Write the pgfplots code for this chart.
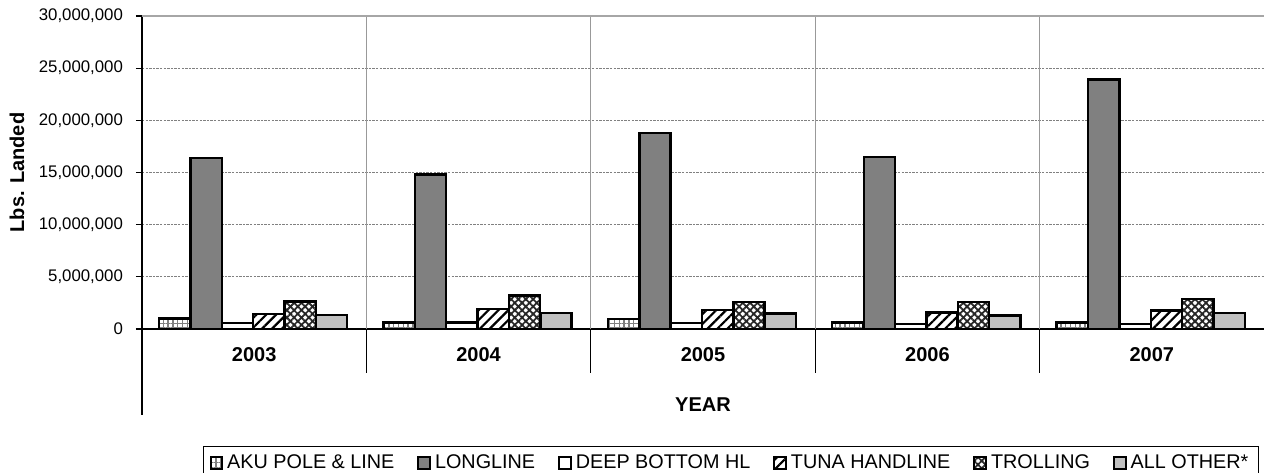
\documentclass[border=0pt]{standalone}
\usepackage{fontspec}
\setmainfont{Liberation Sans}
\usepackage{pgfplots}
\pgfplotsset{compat=1.18}
\usetikzlibrary{patterns.meta}

\pgfplotsset{sq legend/.style={legend image code/.code={\draw[##1, line width=1pt] (0pt,-2.9pt) rectangle (5.8pt,2.9pt);}}}

\begin{document}
\begin{tikzpicture}
\begin{axis}[
  at={(0,0)}, anchor=south west,
  scale only axis, width=561pt, height=156.5pt,
  xmin=-0.5, xmax=4.5, ymin=0, ymax=30000000,
  clip=false,
  ybar,
  axis x line*=bottom, axis y line*=left,
  axis line style={black, line width=0.8pt},
  xtick={0,1,2,3,4},
  xticklabels={2003,2004,2005,2006,2007},
  x tick label style={font=\bfseries\fontsize{10}{12}\selectfont, anchor=center, yshift=-10pt},
  major x tick style={draw=none},
  ytick={0,5000000,10000000,15000000,20000000,25000000,30000000},
  scaled y ticks=false,
  y tick label style={font=\fontsize{8.4}{10}\selectfont, xshift=-3pt, /pgf/number format/.cd, fixed, 1000 sep={,}, assume math mode=true},
  tick align=outside, major tick length=3pt,
  major y tick style={black, line width=0.6pt},
  ymajorgrids, grid style={gray, dash pattern=on 1.2pt off 0.6pt, line width=0.4pt},
  ylabel={Lbs. Landed},
  ylabel style={at={(axis description cs:-0.1114,0.5)}, anchor=center, font=\bfseries\fontsize{10}{12}\selectfont},
  xlabel={YEAR},
  xlabel style={at={(axis description cs:0.5,-0.2428)}, anchor=center, font=\bfseries\fontsize{10}{12}\selectfont},
  legend style={at={(axis description cs:0,0)}, anchor=north west, xshift=30.5pt, yshift=-58.5pt,
    legend columns=-1, draw=black, line width=0.6pt, font=\fontsize{9.9}{12}\selectfont,
    /tikz/every even column/.append style={column sep=9.5pt}},
]
% category dividers
\draw[gray!80, line width=0.5pt] (axis cs:0.5,0) -- (axis cs:0.5,30000000);
\draw[gray!80, line width=0.5pt] (axis cs:1.5,0) -- (axis cs:1.5,30000000);
\draw[gray!80, line width=0.5pt] (axis cs:2.5,0) -- (axis cs:2.5,30000000);
\draw[gray!80, line width=0.5pt] (axis cs:3.5,0) -- (axis cs:3.5,30000000);
\draw[black, line width=0.6pt] (axis cs:0.5,0) -- ([yshift=-22pt]axis cs:0.5,0);
\draw[black, line width=0.6pt] (axis cs:1.5,0) -- ([yshift=-22pt]axis cs:1.5,0);
\draw[black, line width=0.6pt] (axis cs:2.5,0) -- ([yshift=-22pt]axis cs:2.5,0);
\draw[black, line width=0.6pt] (axis cs:3.5,0) -- ([yshift=-22pt]axis cs:3.5,0);
\draw[black, line width=0.8pt] (axis cs:-0.5,0) -- ([yshift=-43pt]axis cs:-0.5,0);
\draw[gray!70, line width=1.2pt] (axis cs:-0.5,30000000) -- (axis cs:4.5,30000000);

\addplot[bar width=0.1397, bar shift=-0.354, draw=black, line width=1.2pt, fill=white,
  postaction={pattern={Hatch[angle=0,distance=2.4pt,line width=0.7pt]}, pattern color=gray}, sq legend]
  coordinates {(0,1000000) (1,640000) (2,960000) (3,640000) (4,640000)};
\addlegendentry{AKU POLE \& LINE}
\addplot[bar width=0.1397, bar shift=-0.214, draw=black, line width=1.2pt, fill={rgb,255:red,128;green,128;blue,128}, sq legend]
  coordinates {(0,16400000) (1,14800000) (2,18800000) (3,16500000) (4,23900000)};
\addlegendentry{LONGLINE}
\addplot[bar width=0.1397, bar shift=-0.0745, draw=black, line width=1.2pt, fill=white, sq legend]
  coordinates {(0,580000) (1,640000) (2,570000) (3,480000) (4,480000)};
\addlegendentry{DEEP BOTTOM HL}
\addplot[bar width=0.1397, bar shift=0.065, draw=black, line width=1.2pt, fill=white,
  postaction={pattern={Lines[angle=45,distance=3.5pt,line width=1.1pt]}, pattern color=black}, sq legend]
  coordinates {(0,1440000) (1,1920000) (2,1820000) (3,1570000) (4,1790000)};
\addlegendentry{TUNA HANDLINE}
\addplot[bar width=0.1397, bar shift=0.205, draw=black, line width=1.2pt, fill=white,
  postaction={pattern={Hatch[angle=45,distance=2.6pt,line width=0.9pt]}, pattern color=black!85}, sq legend]
  coordinates {(0,2650000) (1,3230000) (2,2590000) (3,2590000) (4,2880000)};
\addlegendentry{TROLLING}
\addplot[bar width=0.1397, bar shift=0.345, draw=black, line width=1.2pt, fill={rgb,255:red,192;green,192;blue,192}, sq legend]
  coordinates {(0,1340000) (1,1530000) (2,1470000) (3,1310000) (4,1530000)};
\addlegendentry{ALL OTHER*}
\end{axis}
\pgfresetboundingbox
\path[use as bounding box] (-71pt,-71.5pt) rectangle (561pt,164.5pt);
\end{tikzpicture}
\end{document}
